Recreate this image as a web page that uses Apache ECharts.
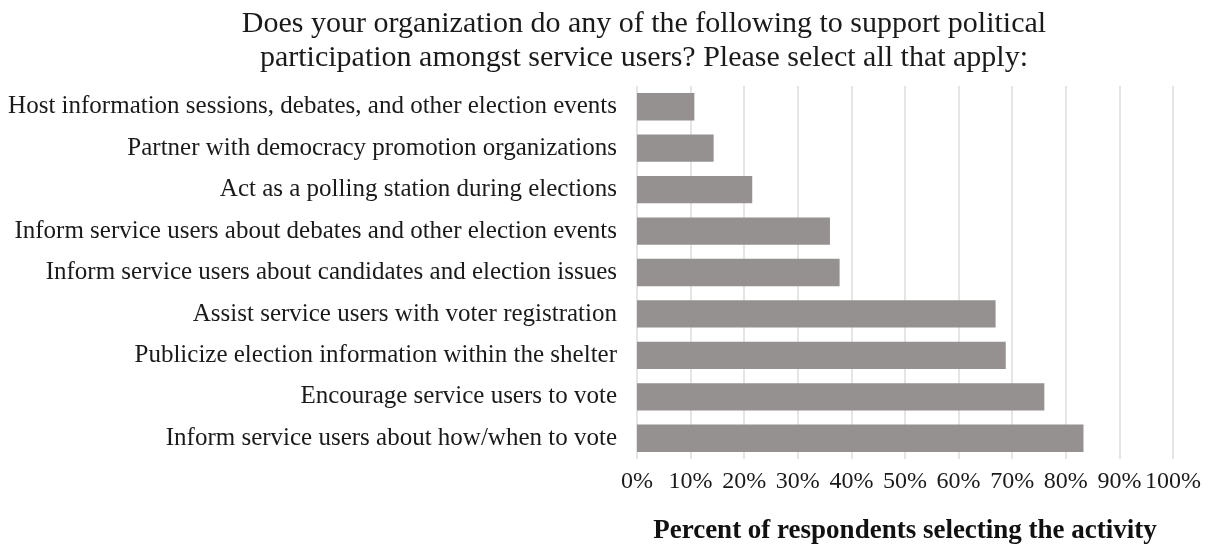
<!DOCTYPE html>
<html>
<head>
<meta charset="utf-8">
<script src="https://cdn.jsdelivr.net/npm/echarts@6/dist/echarts.min.js"></script>
<style>
  html, body { margin: 0; padding: 0; background: #fff; }
  #chart { width: 1208px; height: 550px; }
</style>
</head>
<body>
<div id="chart"></div>
<script>
// categories listed bottom to top (ECharts category y-axis starts at the bottom)
var activities = [
  'Inform service users about how/when to vote',
  'Encourage service users to vote',
  'Publicize election information within the shelter',
  'Assist service users with voter registration',
  'Inform service users about candidates and election issues',
  'Inform service users about debates and other election events',
  'Act as a polling station during elections',
  'Partner with democracy promotion organizations',
  'Host information sessions, debates, and other election events'
];
var percents = [83.3, 76.0, 68.8, 66.9, 37.8, 36.0, 21.5, 14.3, 10.7];
var tickValues = [0, 10, 20, 30, 40, 50, 60, 70, 80, 90, 100];

var serif = '"Liberation Serif", "DejaVu Serif", serif';

var chart = echarts.init(document.getElementById('chart'));

var option = {
  backgroundColor: '#ffffff',
  animation: false,
  title: {
    text: 'Does your organization do any of the following to support political\nparticipation amongst service users? Please select all that apply:',
    left: 639,
    top: 2,
    textAlign: 'center',
    textStyle: {
      fontFamily: serif,
      fontSize: 30,
      fontWeight: 'normal',
      color: '#1a1a1a',
      lineHeight: 34
    }
  },
  grid: {
    left: 637,
    right: 35,
    top: 86,
    bottom: 90
  },
  xAxis: {
    type: 'value',
    min: tickValues[0],
    max: tickValues[tickValues.length - 1],
    interval: 10,
    name: 'Percent of respondents selecting the activity',
    nameLocation: 'middle',
    nameGap: 59,
    nameTextStyle: {
      fontFamily: serif,
      fontSize: 27,
      fontWeight: 'bold',
      color: '#111'
    },
    axisLine: { show: false },
    axisTick: { show: false },
    axisLabel: {
      formatter: '{value}%',
      fontFamily: serif,
      fontSize: 24,
      color: '#1a1a1a',
      margin: 11
    },
    splitLine: {
      show: true,
      lineStyle: { color: '#dcdcdc', width: 1.5 }
    }
  },
  yAxis: {
    type: 'category',
    data: activities,
    axisLine: { show: false },
    axisTick: { show: false },
    axisLabel: {
      fontFamily: serif,
      fontSize: 25,
      color: '#1a1a1a',
      margin: 20
    }
  },
  series: [{
    type: 'bar',
    data: percents,
    barCategoryGap: '34%',
    itemStyle: {
      color: '#959190'
    }
  }]
};

chart.setOption(option);
</script>
</body>
</html>
